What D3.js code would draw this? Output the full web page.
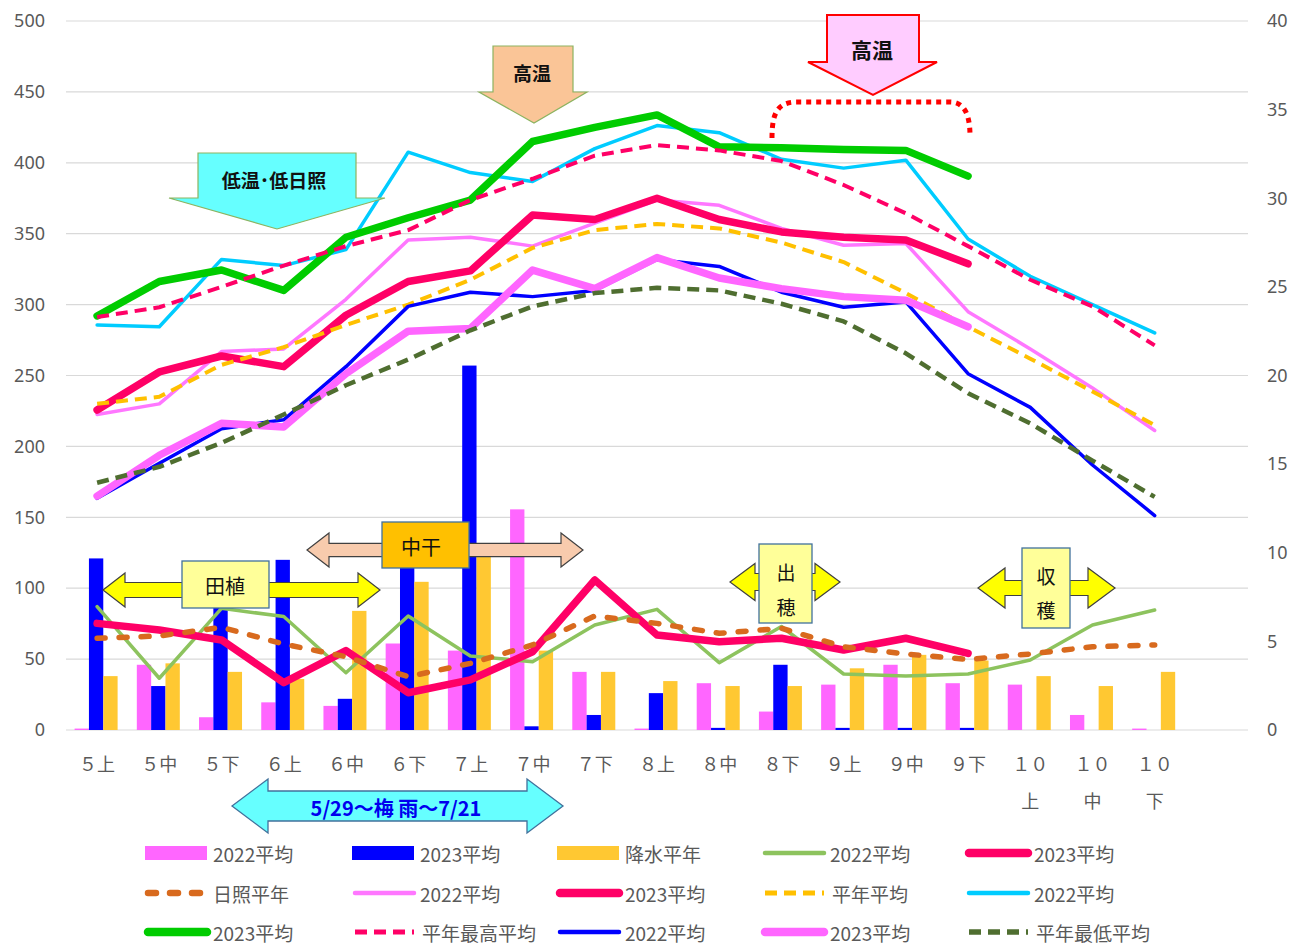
<!DOCTYPE html>
<html><head><meta charset="utf-8">
<script src="https://cdn.jsdelivr.net/npm/d3@7"></script>
<style>
body{margin:0;background:#fff;}
svg{display:block;font-family:"Noto Sans CJK JP","Noto Sans",sans-serif;}
</style>
</head><body>
<svg id="c" width="1305" height="945"></svg>
<script>
// ---------- DATA ----------
const categories = ["５上","５中","５下","６上","６中","６下","７上","７中","７下","８上","８中","８下","９上","９中","９下","１０上","１０中","１０下",""];
const leftTicks = [0,50,100,150,200,250,300,350,400,450,500];
const rightTicks = [0,5,10,15,20,25,30,35,40];

// precipitation (left axis, bars)
const rain2022   = [1,46,9,19.5,17,61,56,155.6,41,1,33,13,32,46,33,32,10.6,1];
const rain2023   = [121,31,100,120,22,125,257,2.6,10.6,26,1.5,46,1.5,1.5,1.5,0,0,0];
const rainNormal = [38,47,41,36,84,104.5,127,56,41,34.5,31,31,43.5,53,49,38,31,41];

// sunshine (left axis, lines)
const sun2022   = [87,36.5,85.8,80,40.4,80.4,52.2,48.2,74,85.1,47.5,73,39.5,38.1,39.5,49.4,74,84.6];
const sun2023   = [75.2,70.5,63.5,33.4,56,26.3,35.3,55.2,105.8,67,62.3,64.7,56.4,64.7,54,null,null,null];
const sunNormal = [64.7,66.3,72.4,60.6,51.7,37.6,47,60,80.4,75.2,68.2,71.7,58.7,53.6,49.8,53.6,58.7,60];

// temperatures (right axis, lines)
const tavg2022   = [17.8,18.4,21.35,21.5,24.3,27.65,27.8,27.3,28.6,29.9,29.6,28.3,27.35,27.45,23.6,21.5,19.3,16.9];
const tavg2023   = [18.05,20.2,21.1,20.5,23.4,25.3,25.9,29.05,28.8,30.0,28.8,28.1,27.8,27.65,26.3,null,null,null];
const tavgNormal = [18.4,18.8,20.6,21.6,22.85,24.0,25.4,27.2,28.2,28.55,28.3,27.5,26.4,24.65,22.75,20.95,19.1,17.2];
const tmax2022   = [22.85,22.75,26.55,26.2,27.1,32.6,31.45,30.95,32.8,34.1,33.7,32.2,31.7,32.15,27.7,25.6,24.0,22.4];
const tmax2023   = [23.36,25.3,25.95,24.8,27.8,28.9,29.9,33.2,34.0,34.7,32.9,32.85,32.75,32.7,31.25,null,null,null];
const tmaxNormal = [23.3,23.85,25.0,26.2,27.3,28.2,29.9,31.1,32.4,33.0,32.7,32.1,30.75,29.15,27.3,25.4,23.9,21.7];
const tmin2022   = [13.07,15.05,17.0,17.5,20.5,23.9,24.7,24.45,24.8,26.55,26.15,24.7,23.85,24.15,20.1,18.2,14.95,12.1];
const tmin2023   = [13.2,15.5,17.3,17.1,20.1,22.5,22.65,25.95,24.9,26.65,25.5,24.9,24.45,24.25,22.75,null,null,null];
const tminNormal = [13.95,14.85,16.2,17.8,19.45,20.9,22.55,23.9,24.65,24.95,24.8,24.05,23.05,21.25,19.0,17.3,15.2,13.15];

const legendLabels = ["2022平均","2023平均","降水平年","2022平均","2023平均","日照平年","2022平均","2023平均","平年平均","2022平均","2023平均","平年最高平均","2022平均","2023平均","平年最低平均"];

// ---------- SETUP ----------
const svg = d3.select("#c");
const x = d3.scaleBand().domain(d3.range(categories.length)).range([66,1248]);
const yL = d3.scaleLinear().domain([0,500]).range([730,21]);
const yR = d3.scaleLinear().domain([0,40]).range([730,21]);
const groupW = 43;
const xs = d3.scaleBand().domain([0,1,2]).range([0,groupW]);
const cx = i => x(i) + x.bandwidth()/2;

// gridlines
svg.append("g").selectAll("line").data(leftTicks).join("line")
  .attr("x1",66).attr("x2",1248)
  .attr("y1",d=>yL(d)).attr("y2",d=>yL(d))
  .attr("stroke","#D9D9D9").attr("stroke-width",1.2);

// axes
const axL = svg.append("g").attr("transform","translate(66,0)")
  .call(d3.axisLeft(yL).tickValues(leftTicks).tickSize(0).tickPadding(21));
const axR = svg.append("g").attr("transform","translate(1248,0)")
  .call(d3.axisRight(yR).tickValues(rightTicks).tickSize(0).tickPadding(19));
[axL,axR].forEach(a=>{
  a.select(".domain").remove();
  a.selectAll("text").attr("fill","#595959").style("font-size","18px")
   .style("font-family","'Noto Sans','Liberation Sans',sans-serif");
});

// x labels
const xl = svg.append("g");
categories.forEach((c,i)=>{
  if(!c) return;
  if(c.startsWith("１０")){
    xl.append("text").attr("x",cx(i)).attr("y",771).attr("text-anchor","middle")
      .attr("fill","#595959").style("font-size","18px").text("１０");
    xl.append("text").attr("x",cx(i)).attr("y",808).attr("text-anchor","middle")
      .attr("fill","#595959").style("font-size","18px").text(c.slice(2));
  } else {
    xl.append("text").attr("x",cx(i)).attr("y",771).attr("text-anchor","middle")
      .attr("fill","#595959").style("font-size","18px").text(c);
  }
});

// bars
const barSeries = [
  {data:rain2022, color:"#FF66FF"},
  {data:rain2023, color:"#0000FF"},
  {data:rainNormal, color:"#FFC832"}
];
const off = (x.bandwidth()-groupW)/2 - 1;
barSeries.forEach((s,k)=>{
  svg.append("g").selectAll("rect").data(s.data.map((v,i)=>({v,i})).filter(d=>d.v!=null && d.v>0))
    .join("rect")
    .attr("x",d=>x(d.i)+off+xs(k)).attr("width",xs.bandwidth())
    .attr("y",d=>yL(d.v)).attr("height",d=>yL(0)-yL(d.v))
    .attr("fill",s.color);
});

// lines
const lineSeries = [
  {data:sun2022, y:yL, color:"#8DC35E", w:3.5},
  {data:sun2023, y:yL, color:"#FF0066", w:7.5},
  {data:sunNormal, y:yL, color:"#D86A1E", w:5.5, dash:"8,14", cap:"round"},
  {data:tavg2022, y:yR, color:"#FF77FF", w:3.5},
  {data:tavg2023, y:yR, color:"#FF0066", w:7.5},
  {data:tavgNormal, y:yR, color:"#FFC000", w:4, dash:"12,7"},
  {data:tmax2022, y:yR, color:"#00CCFF", w:3.5},
  {data:tmax2023, y:yR, color:"#00CC00", w:7.5},
  {data:tmaxNormal, y:yR, color:"#FF0066", w:4, dash:"12,7"},
  {data:tmin2022, y:yR, color:"#0000FF", w:3.5},
  {data:tmin2023, y:yR, color:"#FF66FF", w:7.5},
  {data:tminNormal, y:yR, color:"#4F6E30", w:4.5, dash:"12,7"}
];
lineSeries.forEach(s=>{
  const gen = d3.line().defined(d=>d!=null).x((d,i)=>cx(i)).y(d=>s.y(d));
  svg.append("path").attr("d",gen(s.data)).attr("fill","none")
    .attr("stroke",s.color).attr("stroke-width",s.w)
    .attr("stroke-linejoin","round")
    .attr("stroke-linecap", s.cap || (s.dash ? "butt" : "round"))
    .attr("stroke-dasharray", s.dash || null);
});

// ---------- ANNOTATIONS ----------
const ann = svg.append("g");
function dbl(x1,x2,cy,hl,hh,bh){
  return `M${x1},${cy} L${x1+hl},${cy-hh} L${x1+hl},${cy-bh} L${x2-hl},${cy-bh} L${x2-hl},${cy-hh} L${x2},${cy} L${x2-hl},${cy+hh} L${x2-hl},${cy+bh} L${x1+hl},${cy+bh} L${x1+hl},${cy+hh} Z`;
}
function down(xl,xr,yt,yb,wl,wr,tx,ty){
  return `M${xl},${yt} L${xr},${yt} L${xr},${yb} L${wr},${yb} L${tx},${ty} L${wl},${yb} L${xl},${yb} Z`;
}
function txt(t,xp,yp,size,opts={}){
  return ann.append("text").attr("x",xp).attr("y",yp).attr("text-anchor","middle")
    .attr("dominant-baseline","central").style("font-size",size+"px")
    .style("font-weight",opts.bold?"bold":"normal").attr("fill",opts.fill||"#111").text(t);
}
function box(x0,y0,w,h,fill){
  ann.append("rect").attr("x",x0).attr("y",y0).attr("width",w).attr("height",h)
    .attr("fill",fill).attr("stroke","#41719C").attr("stroke-width",1.3);
}

// 低温・低日照
ann.append("path").attr("d",down(198,356,153,198,169,385,277,229))
  .attr("fill","#66FFFF").attr("stroke","#8DB360").attr("stroke-width",1.2);
txt("低温･低日照",274,179,19,{bold:true});

// 高温 (orange)
ann.append("path").attr("d",down(493,573,46,92,479,587,534,123))
  .attr("fill","#FAC597").attr("stroke","#8DB360").attr("stroke-width",1.2);
txt("高温",532,72,19,{bold:true});

// 高温 (pink, red stroke)
ann.append("path").attr("d",down(827,919,15,62,808,937,873,95))
  .attr("fill","#FFCCFF").attr("stroke","#FF0000").attr("stroke-width",2);
txt("高温",872,49,21,{bold:true});

// dotted bracket
ann.append("path").attr("d","M772,138 C772,112 778,102 797,102 L950,102 C964,102 970,114 970,136")
  .attr("fill","none").attr("stroke","#FF0000").attr("stroke-width",5).attr("stroke-dasharray","5,5");

// 田植
ann.append("path").attr("d",dbl(103,380,590,22,17,7.5))
  .attr("fill","#FFFF00").attr("stroke","#404040").attr("stroke-width",1.2);
box(182,561,87,47,"#FFFF99");
txt("田植",225,585,20);

// 中干
ann.append("path").attr("d",dbl(307,583,550,22,17,6.7))
  .attr("fill","#F8CBAD").attr("stroke","#404040").attr("stroke-width",1.2);
box(382,522,87,46,"#FFC000");
txt("中干",421,546,20);

// 出穂
ann.append("path").attr("d",dbl(730,840,582,25,18.5,8.5))
  .attr("fill","#FFFF00").attr("stroke","#404040").attr("stroke-width",1.2);
box(759,544,53,79,"#FFFF99");
txt("出",786,571,19);
txt("穂",786,606,19);

// 収穫
ann.append("path").attr("d",dbl(978,1115,588,27,20,7.5))
  .attr("fill","#FFFF00").attr("stroke","#404040").attr("stroke-width",1.2);
box(1022,548,48,80,"#FFFF99");
txt("収",1046,575,19);
txt("穫",1046,609,19);

// 梅雨
ann.append("path").attr("d",dbl(232,563,806,36,27,15))
  .attr("fill","#66FFFF").attr("stroke","#41719C").attr("stroke-width",1.3);
txt("5/29～梅 雨～7/21",396,807,20,{bold:true,fill:"#0000EE"});

// ---------- LEGEND ----------
const lg = svg.append("g");
const colX = [145,352,557,762,966];
const rowY = [853,893,932];
const legendStyles = [
  {t:"rect",c:"#FF66FF"},{t:"rect",c:"#0000FF"},{t:"rect",c:"#FFC832"},
  ...lineSeries
];
legendStyles.forEach((s,i)=>{
  const c = i%5, r = Math.floor(i/5);
  const x0 = colX[c], y0 = rowY[r];
  if(s.t==="rect"){
    lg.append("rect").attr("x",x0).attr("y",y0-7).attr("width",62).attr("height",14).attr("fill",s.c);
  } else {
    lg.append("line").attr("x1",x0+3).attr("x2",x0+62).attr("y1",y0).attr("y2",y0)
      .attr("stroke",s.color).attr("stroke-width",s.w+1)
      .attr("stroke-linecap", s.cap || (s.dash?"butt":"round"))
      .attr("stroke-dasharray", s.dash || null);
  }
  const lab = legendLabels[i];
  const pad = (lab.startsWith("平年")) ? 70 : 68;
  lg.append("text").attr("x",x0+pad).attr("y",y0).attr("dominant-baseline","central")
    .attr("fill","#595959").style("font-size","19px").text(lab);
});
</script>
</body></html>
